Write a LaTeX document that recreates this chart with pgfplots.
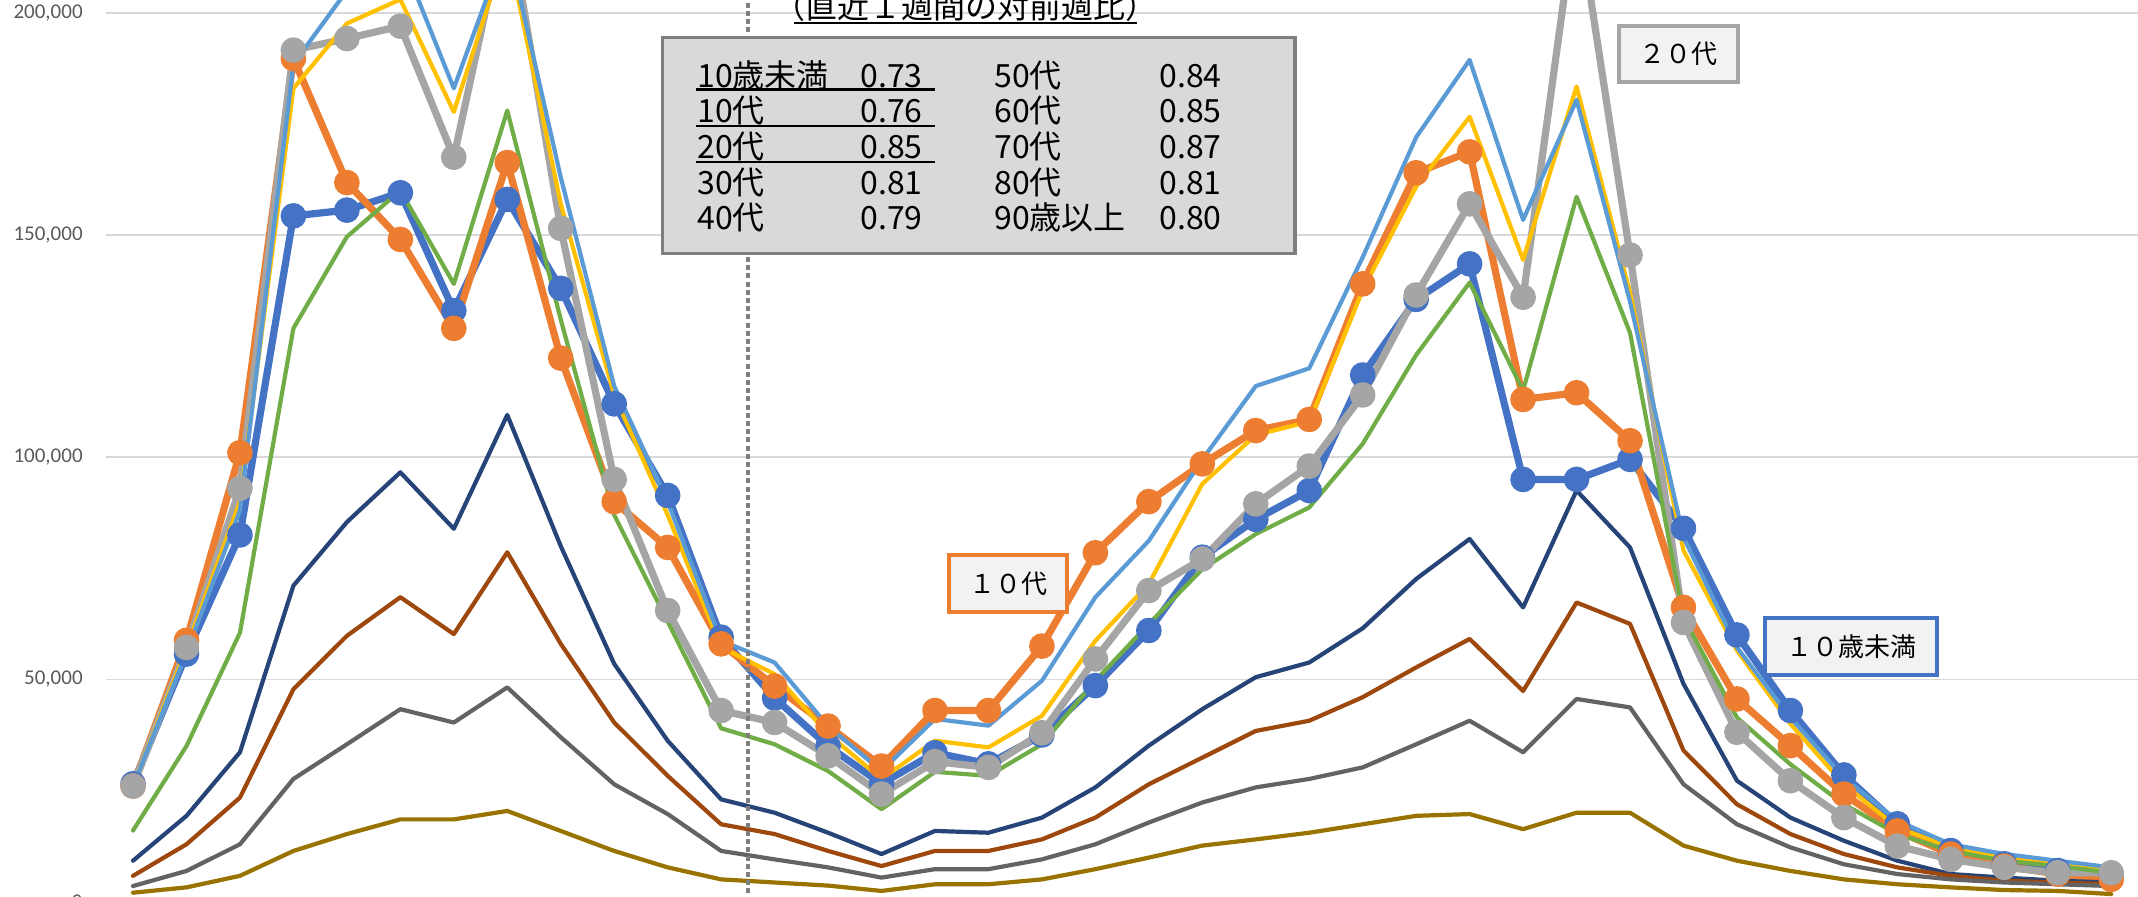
\documentclass[border=0pt]{standalone}
\usepackage{fontspec}
\setmainfont{Carlito}
\newfontfamily\jp{Noto Sans CJK JP}
\usepackage{pgfplots}
\usepackage{pgfplotstable}
\pgfplotsset{compat=1.18}
\definecolor{cA}{HTML}{4472C4}
\definecolor{cB}{HTML}{ED7D31}
\definecolor{cC}{HTML}{A5A5A5}
\definecolor{cD}{HTML}{FFC000}
\definecolor{cE}{HTML}{5B9BD5}
\definecolor{cF}{HTML}{70AD47}
\definecolor{cG}{HTML}{264478}
\definecolor{cH}{HTML}{9E480E}
\definecolor{cK}{HTML}{636363}
\definecolor{cM}{HTML}{997300}
\definecolor{gridc}{HTML}{D9D9D9}
\definecolor{tickc}{HTML}{595959}
\definecolor{boxfill}{HTML}{D9D9D9}
\definecolor{boxdraw}{HTML}{7F7F7F}
\definecolor{calfill}{HTML}{F2F2F2}
\definecolor{dotc}{HTML}{7F7F7F}

% values in thousands
\pgfplotstableread{
i a b c d e f g h k m
0 26.5 26.0 26.0 26.0 26.0 16.0 9.2 5.8 3.5 2.0
1 55.7 58.8 57.2 57.0 56.0 35.0 19.3 12.9 6.9 3.2
2 82.5 101.0 93.0 90.0 88.0 60.5 33.6 23.4 12.9 5.8
3 154.3 189.7 191.6 183.0 188.5 129.0 71.1 47.8 27.6 11.4
4 155.6 161.8 194.2 197.6 205.0 149.6 85.4 59.8 35.4 15.2
5 159.5 149.0 197.0 203.0 213.0 160.0 96.6 68.5 43.3 18.5
6 133.0 129.0 167.5 177.7 183.0 139.0 83.9 60.2 40.3 18.5
7 158.0 166.3 223.0 215.0 216.0 178.0 109.5 78.6 48.2 20.4
8 138.0 122.3 151.5 157.0 163.0 131.0 80.0 58.0 37.0 15.9
9 112.0 90.0 95.0 114.0 116.0 87.0 53.5 40.3 26.4 11.4
10 91.4 79.7 65.5 87.0 90.0 63.0 36.2 28.3 19.7 7.7
11 59.5 58.0 43.0 57.2 58.7 39.0 23.0 17.4 11.4 5.0
12 45.8 48.5 40.3 51.2 53.8 35.4 20.0 15.2 9.5 4.3
13 35.0 39.5 32.8 37.7 39.5 29.4 15.5 11.4 7.7 3.6
14 26.5 30.5 24.2 27.6 29.4 20.8 10.7 8.0 5.4 2.4
15 33.5 43.0 31.5 36.2 41.1 29.2 15.9 11.4 7.3 3.9
16 31.0 43.0 30.2 34.7 39.6 28.3 15.5 11.4 7.3 3.9
17 37.5 57.5 38.0 41.8 49.7 35.4 18.9 14.0 9.5 5.0
18 48.6 78.5 54.6 58.7 68.5 49.7 25.7 18.9 12.9 7.3
19 61.0 90.0 70.0 71.5 81.2 62.5 35.1 26.4 17.8 9.9
20 77.5 98.5 77.1 94.0 99.5 74.8 43.3 32.4 22.3 12.6
21 86.0 106.0 89.5 105.0 116.0 82.7 50.5 38.4 25.7 14.0
22 92.5 108.5 98.0 108.0 120.0 88.7 53.8 40.7 27.6 15.5
23 118.5 139.0 114.0 137.6 145.0 103.0 61.5 46.0 30.2 17.4
24 135.5 164.0 136.5 160.9 172.0 123.0 72.6 52.7 35.4 19.3
25 143.5 168.7 157.0 176.6 189.4 139.3 81.6 59.1 40.7 19.7
26 95.0 113.0 136.0 144.4 153.4 115.0 66.2 47.4 33.6 16.3
27 95.0 114.5 224.0 183.4 180.4 158.6 92.5 67.3 45.6 20.0
28 99.5 103.7 145.5 137.0 135.0 128.0 79.7 62.5 43.7 20.0
29 84.0 66.2 62.8 79.0 82.0 64.0 49.0 34.0 26.4 12.6
30 60.0 45.6 38.1 56.5 57.2 41.4 27.2 21.9 17.4 9.2
31 43.0 35.1 27.2 40.0 41.4 30.9 18.9 15.2 12.2 6.9
32 28.5 24.2 18.9 26.4 27.9 21.9 13.7 10.7 8.4 5.0
33 17.5 15.9 12.5 16.7 18.2 15.2 9.2 7.7 6.2 3.9
34 11.5 10.7 9.5 12.2 12.9 11.4 6.2 5.8 5.0 3.2
35 8.5 8.0 7.7 9.9 10.7 9.2 5.4 4.7 4.3 2.6
36 7.0 6.2 6.5 8.4 9.2 8.0 4.7 4.3 3.9 2.4
37 6.0 5.0 6.5 6.9 7.7 6.5 4.3 3.9 3.5 1.7
}\data

\begin{document}
\begin{tikzpicture}
\useasboundingbox (0,0) rectangle (1069pt,448pt);
\clip (0,0) rectangle (1069pt,448pt);
\begin{axis}[
  at={(53.15pt,-2.8pt)}, anchor=south west,
  scale only axis, width=1015.85pt, height=450.8pt,
  xmin=-0.5, xmax=37.5, ymin=0, ymax=202.88,
  axis line style={draw=none},
  xtick=\empty,
  ytick={0,50,100,150,200},
  yticklabels={0,{50,000},{100,000},{150,000},{200,000}},
  major tick length=0pt,
  ymajorgrids, grid style={color=gridc, line width=0.75pt},
  yticklabel style={font=\fontsize{10.5}{12}\selectfont, text=tickc, xshift=-8.3pt},
  /pgf/number format/assume math mode=true,
  clip=true,
  every axis plot/.append style={line join=round, line cap=round},
  thick series/.style={line width=3.6pt, mark=*, mark size=4.6pt, mark options={solid}},
  thin series/.style={line width=2.1pt, mark=none},
]
\addplot[thick series, color=cA] table[x=i, y=a] {\data};
\addplot[thick series, color=cB] table[x=i, y=b] {\data};
\addplot[thick series, color=cC] table[x=i, y=c] {\data};
\addplot[thin series, color=cD] table[x=i, y=d] {\data};
\addplot[thin series, color=cE] table[x=i, y=e] {\data};
\addplot[thin series, color=cF] table[x=i, y=f] {\data};
\addplot[thin series, color=cG] table[x=i, y=g] {\data};
\addplot[thin series, color=cH] table[x=i, y=h] {\data};
\addplot[thin series, color=cK] table[x=i, y=k] {\data};
\addplot[thin series, color=cM] table[x=i, y=m] {\data};
\draw[color=dotc, line width=2.2pt, dash pattern=on 2.5pt off 1.6pt] (11.5,0) -- (11.5,202.88);
\end{axis}

\begin{scope}[x=0.5pt, y=-0.5pt, yshift=448pt]
  % ratio table
  \draw[fill=boxfill, draw=boxdraw, line width=1.6pt] (662.5,37.3) rectangle (1295,253.3);
  \begin{scope}[every node/.style={anchor=base west, inner sep=0pt, font=\jp\fontsize{16}{16}\selectfont}]
    \node at (697,87.3) {10歳未満};  \node at (860,87.3) {0.73};
    \node at (697,122.7) {10代};     \node at (860,122.7) {0.76};
    \node at (697,158.3) {20代};     \node at (860,158.3) {0.85};
    \node at (697,194.5) {30代};     \node at (860,194.5) {0.81};
    \node at (697,229.3) {40代};     \node at (860,229.3) {0.79};
    \node at (994,87.3) {50代};      \node at (1159,87.3) {0.84};
    \node at (994,122.7) {60代};     \node at (1159,122.7) {0.85};
    \node at (994,158.3) {70代};     \node at (1159,158.3) {0.87};
    \node at (994,194.5) {80代};     \node at (1159,194.5) {0.81};
    \node at (994,229.3) {90歳以上}; \node at (1159,229.3) {0.80};
  \end{scope}
  \draw[line width=1.1pt] (696,89.6) -- (935,89.6);
  \draw[line width=1.1pt] (696,126) -- (935,126);
  \draw[line width=1.1pt] (696,162.3) -- (935,162.3);
  % title
  \node[anchor=base, inner sep=0pt, font=\jp\fontsize{16}{16}\selectfont] at (965,19) {（直近１週間の対前週比）};
  \draw[line width=1.1pt] (794,22.7) -- (1137,22.7);
  % callouts
  \draw[fill=calfill, draw=cB, line width=2.2pt] (949,555) rectangle (1067,612);
  \node[font=\jp\fontsize{13}{13}\selectfont, inner sep=0pt] at (1008,583.5) {１０代};
  \draw[fill=calfill, draw=cC, line width=2.2pt] (1619,26) rectangle (1738,82);
  \node[font=\jp\fontsize{13}{13}\selectfont, inner sep=0pt] at (1678.5,54) {２０代};
  \draw[fill=calfill, draw=cA, line width=2.2pt] (1765,618) rectangle (1937,675);
  \node[font=\jp\fontsize{13}{13}\selectfont, inner sep=0pt] at (1851,646.5) {１０歳未満};
\end{scope}
\end{tikzpicture}
\end{document}
